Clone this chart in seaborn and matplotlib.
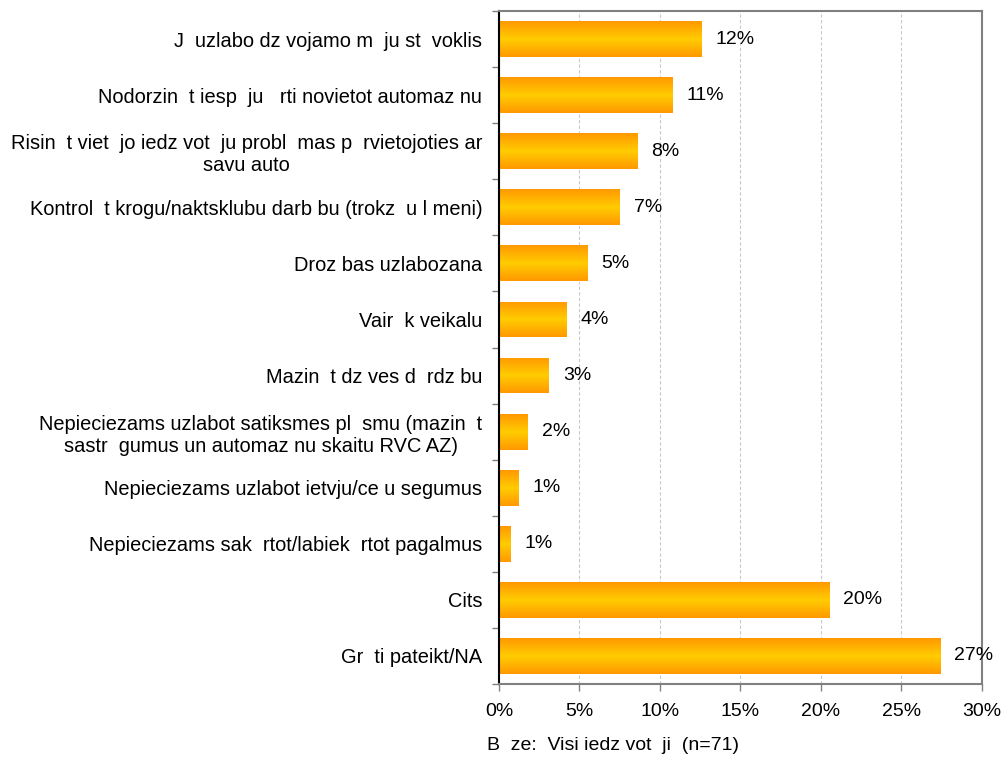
import matplotlib

matplotlib.use("Agg")

import matplotlib.pyplot as plt
import numpy as np
import pandas as pd
import seaborn as sns
from matplotlib.colors import LinearSegmentedColormap
from matplotlib.ticker import FixedLocator


# answers as they appear on the chart (missing glyphs show as gaps)
categories = [
    "J  uzlabo dz vojamo m  ju st  voklis",
    "Nodorzin  t iesp  ju   rti novietot automaz nu",
    "Risin  t viet  jo iedz vot  ju probl  mas p  rvietojoties ar\nsavu auto",
    "Kontrol  t krogu/naktsklubu darb bu (trokz  u l meni)",
    "Droz bas uzlabozana",
    "Vair  k veikalu",
    "Mazin  t dz ves d  rdz bu",
    "Nepieciezams uzlabot satiksmes pl  smu (mazin  t\nsastr  gumus un automaz nu skaitu RVC AZ)",
    "Nepieciezams uzlabot ietvju/ce u segumus",
    "Nepieciezams sak  rtot/labiek  rtot pagalmus",
    "Cits",
    "Gr  ti pateikt/NA",
]
shares = [12.6, 10.8, 8.6, 7.5, 5.5, 4.2, 3.1, 1.8, 1.2, 0.7, 20.5, 27.4]
value_labels = ["12%", "11%", "8%", "7%", "5%", "4%", "3%", "2%", "1%", "1%", "20%", "27%"]
x_ticks = [0, 5, 10, 15, 20, 25, 30]
x_tick_labels = ["0%", "5%", "10%", "15%", "20%", "25%", "30%"]
footnote = "B  ze:  Visi iedz vot  ji  (n=71)"


sns.set_theme(style="white")
plt.rcParams["font.family"] = ["Liberation Sans", "DejaVu Sans"]
plt.rcParams["text.color"] = "black"
plt.rcParams["xtick.color"] = "black"
plt.rcParams["ytick.color"] = "black"

FONT_SIZE = 14
GRAY = "#808080"


def add_gradient(ax, cmap):
    gradient = np.linspace(0, 1, 64).reshape(-1, 1)
    for patch in ax.patches:
        x0, y0 = patch.get_x(), patch.get_y()
        w, h = patch.get_width(), patch.get_height()
        img = ax.imshow(
            gradient,
            cmap=cmap,
            aspect="auto",
            extent=[x0, x0 + w, y0 + h, y0],
            interpolation="bilinear",
            zorder=patch.get_zorder() + 0.1,
        )
        img.set_clip_path(patch)


frame = pd.DataFrame({"answer": categories, "share": shares})

fig = plt.figure(figsize=(10.05, 7.59), dpi=100)
ax = fig.add_axes([0.4965, 0.0988, 0.4806, 0.8867])

sns.barplot(
    data=frame, x="share", y="answer", orient="h",
    color="#FFB000", saturation=1, width=0.64, ax=ax,
)
bar_cmap = LinearSegmentedColormap.from_list("bar", ["#FF9900", "#FFCC00", "#FF9900"])
add_gradient(ax, bar_cmap)

ax.bar_label(ax.containers[0], labels=value_labels, padding=10, fontsize=FONT_SIZE, color="black")

ax.set_xlim(0, 30)
ax.set_ylim(len(categories) - 0.5, -0.5)
ax.set_xticks(x_ticks)
ax.set_xticklabels(x_tick_labels)
ax.set_xlabel("")
ax.set_ylabel("")

ax.xaxis.grid(True, color="#c8c8c8", linestyle=(0, (3, 2)), linewidth=0.8)
ax.set_axisbelow(True)

for side in ["top", "right", "bottom"]:
    ax.spines[side].set_color(GRAY)
    ax.spines[side].set_linewidth(1.5)
ax.spines["left"].set_color("black")
ax.spines["left"].set_linewidth(1.5)

ax.yaxis.set_minor_locator(FixedLocator(np.arange(-0.5, len(categories), 1)))
ax.tick_params(axis="y", which="major", left=False, length=0, pad=12, labelsize=14.4)
ax.tick_params(axis="y", which="minor", left=True, length=5, width=1, color=GRAY)
ax.tick_params(axis="x", which="major", bottom=True, length=5, width=1, color=GRAY, pad=9, labelsize=FONT_SIZE)
for label in ax.get_yticklabels():
    label.set_multialignment("center")

fig.text(487 / 1005, 1 - 745 / 759, footnote, ha="left", va="center", fontsize=FONT_SIZE)

fig.savefig("out.png", dpi=100)
